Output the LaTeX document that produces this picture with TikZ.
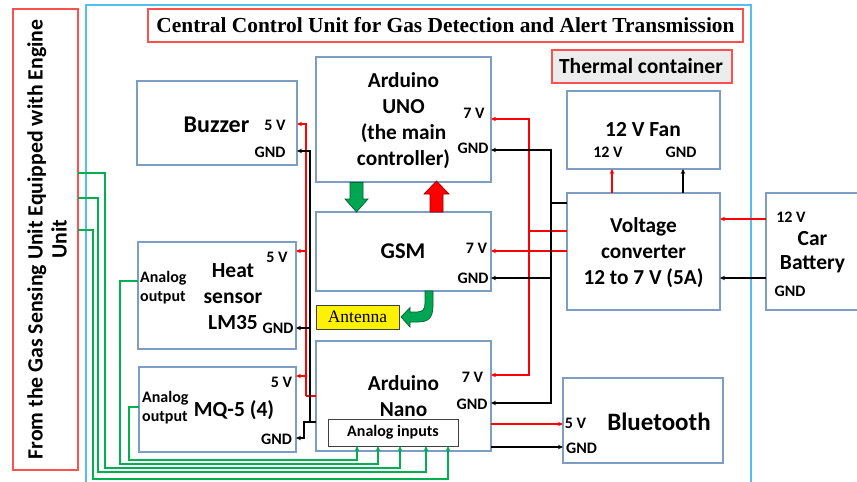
\documentclass[tikz,border=0pt]{standalone}
\usepackage{fontspec}
\setmainfont{Carlito}
\newfontfamily\serifA{Liberation Serif}
\usetikzlibrary{arrows.meta}
\definecolor{boxc}{RGB}{126,157,196}
\definecolor{frameblue}{RGB}{85,190,240}
\definecolor{framered}{RGB}{255,80,80}
\definecolor{wgreen}{RGB}{0,176,80}
\definecolor{wred}{RGB}{255,0,0}
\definecolor{agreen}{RGB}{0,166,81}
\definecolor{agreend}{RGB}{0,100,50}
\definecolor{ared}{RGB}{150,0,0}
\definecolor{thermfill}{RGB}{236,236,236}
\tikzset{
  box/.style={draw=boxc, line width=1.1pt, inner sep=0pt, outer sep=0pt, anchor=north west},
  redbox/.style={draw=framered, line width=1.1pt, inner sep=0pt, outer sep=0pt, anchor=north west},
  lbl/.style={font=\bfseries\fontsize{16}{18}\selectfont, inner sep=0pt},
  smalllbl/.style={font=\bfseries\fontsize{16}{19}\selectfont, inner sep=0pt, align=left, anchor=west},
  mid/.style={font=\bfseries\fontsize{21.3}{26}\selectfont, inner sep=0pt, align=center},
  rw/.style={draw=wred, line width=1.5pt},
  bw/.style={draw=black, line width=1.3pt},
  gw/.style={draw=wgreen, line width=1.5pt},
}
\begin{document}
\begin{tikzpicture}[x=1pt,y=-1pt,>={Stealth[length=5pt,width=4.5pt]}]
\useasboundingbox (0,0) rectangle (857,482);
\clip (0,0) rectangle (857,482);

% frames
\node[redbox, minimum width=65pt, minimum height=461pt] (leftbox) at (13,9) {};
\node[rotate=90, align=center, inner sep=0pt, font=\bfseries\fontsize{21.8}{24}\selectfont] (lefttxt) at (47,239.5) {From the Gas Sensing Unit Equipped with Engine\\Unit};
\draw[frameblue, line width=1.2pt] (86,490) -- (86,5) -- (751,5) -- (751,490);
\node[redbox, fill=white, minimum width=595pt, minimum height=33pt] (titlebox) at (148,9) {};
\node[inner sep=0pt, font=\serifA\bfseries\fontsize{21.4}{24}\selectfont] (title) at (445.5,25.5) {Central Control Unit for Gas Detection and Alert Transmission};
\node[redbox, fill=thermfill, minimum width=180pt, minimum height=33pt] (thermbox) at (552,50) {};
\node[inner sep=0pt, font=\bfseries\fontsize{21.5}{24}\selectfont] (thermtxt) at (641,66.5) {Thermal container};

% boxes
\node[box, minimum width=160pt, minimum height=84pt] (buz) at (137,81) {};
\node[box, minimum width=175pt, minimum height=125pt] (uno) at (316,57) {};
\node[box, minimum width=175pt, minimum height=79pt] (gsm) at (316,212) {};
\node[box, minimum width=175pt, minimum height=110pt] (nano) at (316,341) {};
\node[draw=black!75, line width=0.9pt, inner sep=0pt, outer sep=0pt, anchor=north west, minimum width=130pt, minimum height=27pt] (ain) at (328,419) {};
\node[box, minimum width=158pt, minimum height=107pt] (heat) at (138,242) {};
\node[box, minimum width=157pt, minimum height=85pt] (mq) at (139,367) {};
\node[box, minimum width=153pt, minimum height=78pt] (fan) at (567,91) {};
\node[box, minimum width=153pt, minimum height=117pt] (conv) at (567,193) {};
\node[box, minimum width=110pt, minimum height=117pt] (bat) at (766,193) {};
\node[box, minimum width=160pt, minimum height=85pt] (bt) at (563,378) {};
\node[draw=black!75, fill=yellow, line width=0.9pt, inner sep=0pt, outer sep=0pt, anchor=north west, minimum width=83pt, minimum height=24pt] (ant) at (316,305) {};

% texts
\node[inner sep=0pt, font=\bfseries\fontsize{24}{26}\selectfont] (buzt) at (216.5,125) {Buzzer};
\node[lbl] (buz5t) at (275,125) {5 V};
\node[lbl] (buzgt) at (270,152) {GND};
\node[mid] (unot) at (403.5,121) {Arduino\\UNO\\(the main\\controller)};
\node[lbl] (uno7t) at (474,113) {7 V};
\node[lbl] (unogt) at (473,148) {GND};
\node[inner sep=0pt, font=\bfseries\fontsize{22.5}{24}\selectfont] (gsmt) at (403,251) {GSM};
\node[lbl] (gsm7t) at (476.5,248) {7 V};
\node[lbl] (gsmgt) at (473,278) {GND};
\node[inner sep=0pt, font=\serifA\fontsize{17.5}{20}\selectfont] (antt) at (357.5,317) {Antenna};
\node[mid] (nanot) at (403.5,396.5) {Arduino\\Nano};
\node[lbl] (nano7t) at (472.5,377) {7 V};
\node[lbl] (nanogt) at (472,404) {GND};
\node[lbl] (aint) at (393,432.5) {Analog inputs};
\node[smalllbl] (heatat) at (140,287.5) {Analog\\output};
\node[mid, font=\bfseries\fontsize{21.5}{26}\selectfont] (heatt) at (233,297) {Heat\\sensor\\LM35};
\node[lbl] (heat5t) at (277,257) {5 V};
\node[lbl] (heatgt) at (278,328) {GND};
\node[smalllbl] (mqat) at (142,408) {Analog\\output};
\node[inner sep=0pt, font=\bfseries\fontsize{21.5}{24}\selectfont] (mqt) at (234,410) {MQ-5 (4)};
\node[lbl] (mq5t) at (281.5,382) {5 V};
\node[lbl] (mqgt) at (276.5,439) {GND};
\node[inner sep=0pt, font=\bfseries\fontsize{21.5}{24}\selectfont] (fant) at (643,130) {12 V Fan};
\node[lbl] (fan12t) at (608,152) {12 V};
\node[lbl] (fangt) at (681,152) {GND};
\node[mid] (convt) at (643.5,253) {Voltage\\converter\\12 to 7 V (5A)};
\node[lbl] (bat12t) at (791,217) {12 V};
\node[mid, font=\bfseries\fontsize{21.5}{24}\selectfont] (batt) at (812.5,252) {Car\\Battery};
\node[lbl] (batgt) at (790,291) {GND};
\node[inner sep=0pt, font=\bfseries\fontsize{25}{28}\selectfont] (btt) at (659,422) {Bluetooth};
\node[lbl] (bt5t) at (575.5,423) {5 V};
\node[lbl] (btgt) at (581.5,448) {GND};

% ports
\coordinate (bat12) at (766,219);
\coordinate (batg) at (766,278);
\coordinate (cv12) at (720,219);
\coordinate (cvg) at (720,278);
\coordinate (cvfr) at (612,193);
\coordinate (fanr) at (612,169);
\coordinate (cvfb) at (683,193);
\coordinate (fanb) at (683,169);
\coordinate (cvR1) at (567,231);
\coordinate (cvR2) at (567,251);
\coordinate (cvB) at (567,203);
\coordinate (rb) at (529,231);
\coordinate (bb) at (551,203);
\coordinate (uno7) at (491,119);
\coordinate (unog) at (491,150);
\coordinate (gsm7) at (491,251);
\coordinate (gsmg) at (491,278);
\coordinate (nano7) at (491,375);
\coordinate (nanog) at (491,403);
\coordinate (nanoBr) at (491,424);
\coordinate (nanoBb) at (491,447);
\coordinate (bt5) at (563,424);
\coordinate (btg) at (563,447);
\coordinate (nanoL5) at (316,396);
\coordinate (nanoLG) at (316,422);
\coordinate (lr) at (306,396);
\coordinate (lb) at (310,422);
\coordinate (lb2) at (304,422);
\coordinate (buz5) at (297,124);
\coordinate (buzg) at (297,151);
\coordinate (heat5) at (296,251);
\coordinate (heatg) at (296,328);
\coordinate (mq5) at (296,376);
\coordinate (mqg) at (296,438);
\coordinate (heatA) at (138,281);
\coordinate (mqA) at (139,407);
\coordinate (ext1) at (78,173);
\coordinate (ext2) at (78,198);
\coordinate (ext3) at (78,230);
\coordinate (ain1) at (357,446);
\coordinate (ain2) at (378,446);
\coordinate (ain3) at (400,446);
\coordinate (ain4) at (426,446);
\coordinate (ain5) at (448,446);

% power wiring
\draw[rw,->] (bat12) -- (cv12);
\draw[bw,->] (batg) -- (cvg);
\draw[rw,->] (cvfr) -- (fanr);
\draw[bw,->] (cvfb) -- (fanb);
\draw[rw] (cvR1) -- (rb);
\draw[rw,->] (rb) |- (uno7);
\draw[rw,->] (rb) |- (nano7);
\draw[rw,->] (cvR2) -- (gsm7);
\draw[bw] (cvB) -- (bb);
\draw[bw,->] (bb) |- (unog);
\draw[bw,->] (bb) |- (gsmg);
\draw[bw,->] (bb) |- (nanog);
\draw[rw,->] (nanoBr) -- (bt5);
\draw[bw,->] (nanoBb) -- (btg);
\draw[rw] (nanoL5) -- (lr);
\draw[rw,->] (lr) |- (buz5);
\draw[rw,->] (lr) |- (heat5);
\draw[rw,->] (lr) |- (mq5);
\draw[bw] (nanoLG) -- (lb);
\draw[bw,->] (lb) |- (buzg);
\draw[bw,->] (lb) |- (heatg);
\draw[bw,->] (lb) -- (lb2) |- (mqg);

% analog wiring
\draw[gw,->] (mqA) -| (129,460) -| (ain1);
\draw[gw,->] (heatA) -| (120,464) -| (ain2);
\draw[gw,->] (ext1) -| (105,468) -| (ain3);
\draw[gw,->] (ext2) -| (98,472) -| (ain4);
\draw[gw,->] (ext3) -| (93,479) -| (ain5);

% block arrows
\filldraw[fill=agreen, draw=agreend, line width=0.7pt] (350,182.5) -- (363,182.5) -- (363,199) -- (368,199) -- (356.5,212) -- (345,199) -- (350,199) -- cycle;
\filldraw[fill=red, draw=ared, line width=0.7pt] (430,212) -- (443,212) -- (443,194) -- (449,194) -- (436.5,181) -- (424,194) -- (430,194) -- cycle;
\filldraw[fill=agreen, draw=agreend, line width=0.7pt] (425,291) -- (433,291) -- (433,306) .. controls (433,318) and (428,322) .. (418,322) -- (410,322) -- (410,327) -- (401,317) -- (410,307.5) -- (410,312) -- (417,312) .. controls (423,312) and (425,309) .. (425,303) -- cycle;
\end{tikzpicture}
\end{document}
